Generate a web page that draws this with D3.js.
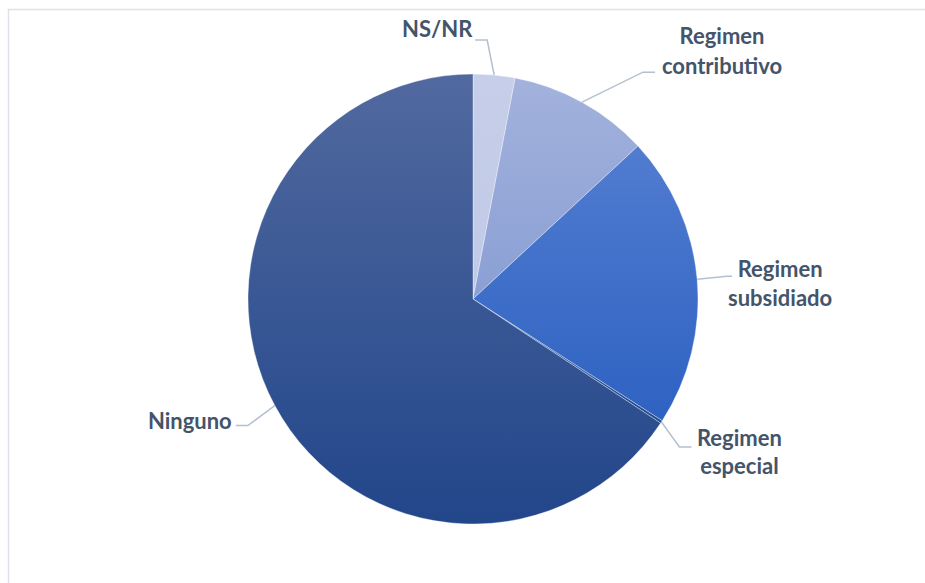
<!DOCTYPE html>
<html>
<head>
<meta charset="utf-8">
<script src="https://cdn.jsdelivr.net/npm/d3@7"></script>
<style>
  html, body { margin: 0; padding: 0; background: #fff; }
  text { font-family: Lato, "Open Sans", sans-serif; font-weight: bold; }
</style>
</head>
<body>
<div id="plot_div"></div>
<script>
const width  = 925;
const height = 583;

// data (percent shares)
const categories = ["NS/NR", "Regimen contributivo", "Regimen subsidiado", "Regimen especial", "Ninguno"];
const values     = [3.0, 10.1, 21.0, 0.2, 65.7];
const labelLines = [["NS/NR"], ["Regimen", "contributivo"], ["Regimen", "subsidiado"], ["Regimen", "especial"], ["Ninguno"]];

// slice gradient colours, top -> bottom
const colTop    = ["#c6cee9", "#a3b2dd", "#517cd0", "#2f5fbf", "#51699f"];
const colBottom = ["#c0c9e6", "#8a9fd4", "#2e62c2", "#244a8c", "#22468a"];

// label layout: elbow point, stub length and text block centre, offset from the slice edge
const elbow    = [[-7, -35], [61, -30], [30, -3], [18, 25], [-27, 20]];
const stubLen  = [12, 12, 5, 12, 12];
const textPos  = [[-57, -45], [140, -50], [83, 5], [78, 31], [-85, 16]];
const lineGap  = [30, 30, 29, 28, 30];

const cx = 473, cy = 299, r = 225;

const svg = d3.create("svg")
    .attr("width", width)
    .attr("height", height)
    .attr("viewBox", [0, 0, width, height]);

// chart area border (runs off the right/bottom)
svg.append("rect")
    .attr("x", 8.5).attr("y", 9.5)
    .attr("width", 930).attr("height", 600)
    .attr("fill", "none")
    .attr("stroke", "#dde1ea")
    .attr("stroke-width", 1.5);

const pie = d3.pie().sort(null).value(d => d)(values);
const arc = d3.arc().innerRadius(0).outerRadius(r);

// vertical gradient per slice
const defs = svg.append("defs");
pie.forEach((d, i) => {
    const g = defs.append("linearGradient")
        .attr("id", "grad" + i)
        .attr("x1", 0).attr("y1", 0).attr("x2", 0).attr("y2", 1);
    g.append("stop").attr("offset", "0%").attr("stop-color", colTop[i]);
    g.append("stop").attr("offset", "100%").attr("stop-color", colBottom[i]);
});

const gPie = svg.append("g").attr("transform", `translate(${cx},${cy})`);

gPie.selectAll("path.slice")
    .data(pie)
    .join("path")
    .attr("class", "slice")
    .attr("d", arc)
    .attr("fill", (d, i) => `url(#grad${i})`)
    .attr("stroke", "#ffffff")
    .attr("stroke-width", 0.6)
    .attr("stroke-opacity", 0.6);

// leader lines + labels
const gLab = svg.append("g").attr("transform", `translate(${cx},${cy})`);

pie.forEach((d, i) => {
    const mid = (d.startAngle + d.endAngle) / 2;
    const ex = Math.sin(mid) * r, ey = -Math.cos(mid) * r;
    const bx = ex + elbow[i][0], by = ey + elbow[i][1];
    const tx = ex + textPos[i][0], ty = ey + textPos[i][1];
    const lines = labelLines[i];

    // horizontal stub from the elbow towards the text
    const stubX = bx + (tx > bx ? stubLen[i] : -stubLen[i]);
    gLab.append("polyline")
        .attr("points", [[ex, ey], [bx, by], [stubX, by]].map(p => p.join(",")).join(" "))
        .attr("fill", "none")
        .attr("stroke", "#b4c0d0")
        .attr("stroke-width", 1.5);

    const t = gLab.append("text")
        .attr("text-anchor", "middle")
        .attr("fill", "#44546a")
        .style("font-size", "22px");
    lines.forEach((s, k) => {
        t.append("tspan")
            .attr("x", tx)
            .attr("y", ty + (k - (lines.length - 1) / 2) * lineGap[i] + 7)
            .text(s);
    });
});

d3.select("#plot_div").append(() => svg.node());
</script>
</body>
</html>
